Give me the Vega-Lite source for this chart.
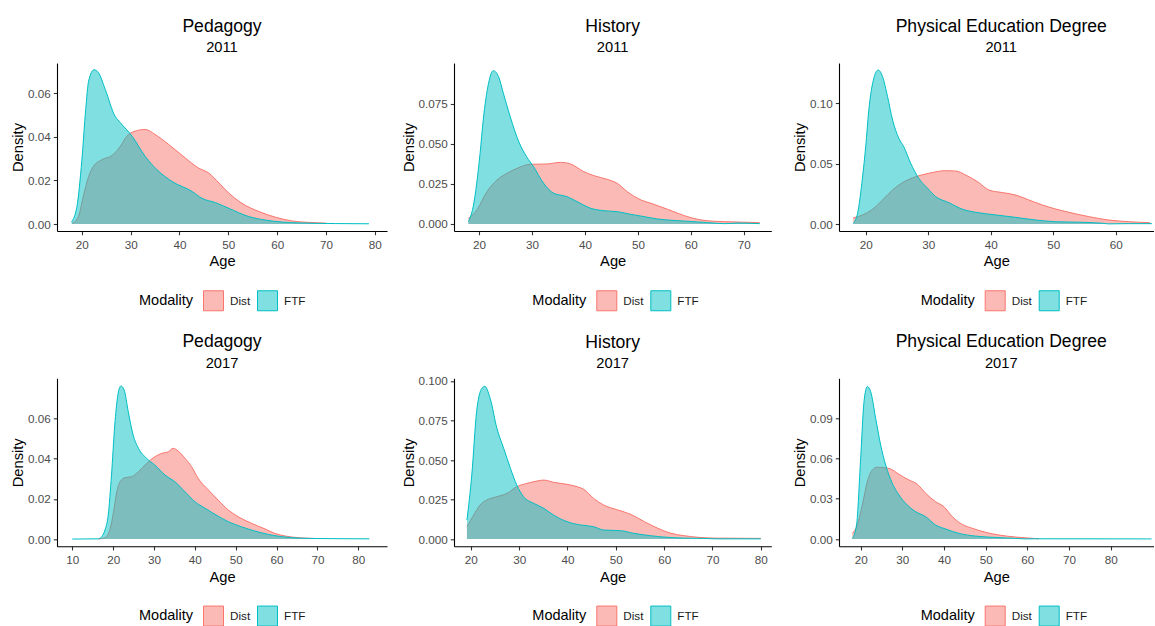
{
  "$schema": "https://vega.github.io/schema/vega-lite/v6.json",
  "padding": {"left": 10, "top": 17, "right": 0, "bottom": 0},
  "columns": 3,
  "bounds": "flush",
  "spacing": {"row": 147.3, "column": 67},
  "resolve": {
    "scale": {"x": "independent", "y": "independent", "fill": "independent", "stroke": "independent"},
    "legend": {"fill": "independent", "stroke": "independent"}
  },
  "config": {
    "font": "Liberation Sans",
    "view": {"stroke": null},
    "axis": {
      "grid": false,
      "domainColor": "#000000",
      "domainWidth": 1.1,
      "tickColor": "#333333",
      "tickWidth": 1.1,
      "tickSize": 3.7,
      "labelColor": "#4D4D4D",
      "labelFont": "Liberation Sans",
      "labelFontSize": 11.7,
      "labelFlush": false,
      "labelOverlap": false,
      "titleFont": "Liberation Sans",
      "titleFontSize": 14.7,
      "titleFontWeight": "normal",
      "titleColor": "#000000"
    },
    "axisX": {"labelPadding": 4.5, "titlePadding": 3},
    "axisY": {"labelPadding": 3, "titlePadding": 2},
    "title": {
      "font": "Liberation Sans",
      "fontSize": 17.6,
      "fontWeight": "normal",
      "color": "#000000",
      "subtitleFont": "Liberation Sans",
      "subtitleFontSize": 14.7,
      "subtitleColor": "#000000",
      "subtitlePadding": 5,
      "anchor": "middle",
      "frame": "group",
      "offset": 8
    },
    "legend": {
      "orient": "none",
      "direction": "horizontal",
      "padding": 0,
      "titleOrient": "left",
      "titleAnchor": "middle",
      "titleBaseline": "middle",
      "titleFont": "Liberation Sans",
      "titleFontSize": 14.5,
      "titleFontWeight": "normal",
      "titleColor": "#000000",
      "titlePadding": 10,
      "labelFont": "Liberation Sans",
      "labelFontSize": 11.7,
      "labelColor": "#1A1A1A",
      "labelOffset": 6,
      "columnPadding": 4,
      "symbolType": "square",
      "symbolSize": 400,
      "symbolStrokeWidth": 1
    }
  },
  "concat": [
    {
      "width": 330, "height": 168,
      "title": {"text": "Pedagogy", "subtitle": "2011"},
      "data": {"values": [
        {"Modality": "Dist", "Age": 18, "Density": 0.0003}, {"Modality": "Dist", "Age": 19.3, "Density": 0.0034}, {"Modality": "Dist", "Age": 20.3, "Density": 0.0126}, {"Modality": "Dist", "Age": 21.4, "Density": 0.0218}, {"Modality": "Dist", "Age": 22.4, "Density": 0.0265}, {"Modality": "Dist", "Age": 24.1, "Density": 0.0295}, {"Modality": "Dist", "Age": 26.2, "Density": 0.0315}, {"Modality": "Dist", "Age": 27.9, "Density": 0.0357}, {"Modality": "Dist", "Age": 29.2, "Density": 0.0403}, {"Modality": "Dist", "Age": 30.9, "Density": 0.0426}, {"Modality": "Dist", "Age": 33, "Density": 0.0434}, {"Modality": "Dist", "Age": 35, "Density": 0.0411}, {"Modality": "Dist", "Age": 37.8, "Density": 0.0365}, {"Modality": "Dist", "Age": 41.2, "Density": 0.0303}, {"Modality": "Dist", "Age": 43.9, "Density": 0.0257}, {"Modality": "Dist", "Age": 46, "Density": 0.0234}, {"Modality": "Dist", "Age": 48.1, "Density": 0.0188}, {"Modality": "Dist", "Age": 50.1, "Density": 0.0142}, {"Modality": "Dist", "Age": 52.8, "Density": 0.0095}, {"Modality": "Dist", "Age": 56.3, "Density": 0.0057}, {"Modality": "Dist", "Age": 59.7, "Density": 0.0031}, {"Modality": "Dist", "Age": 63.1, "Density": 0.0014}, {"Modality": "Dist", "Age": 65.2, "Density": 0.0009}, {"Modality": "Dist", "Age": 68, "Density": 0.0006}, {"Modality": "Dist", "Age": 70, "Density": 0.0004},
        {"Modality": "FTF", "Age": 17.9, "Density": 0.001}, {"Modality": "FTF", "Age": 19, "Density": 0.008}, {"Modality": "FTF", "Age": 20, "Density": 0.029}, {"Modality": "FTF", "Age": 20.8, "Density": 0.0526}, {"Modality": "FTF", "Age": 21.4, "Density": 0.0657}, {"Modality": "FTF", "Age": 22.5, "Density": 0.0708}, {"Modality": "FTF", "Age": 23.4, "Density": 0.0695}, {"Modality": "FTF", "Age": 24.8, "Density": 0.0618}, {"Modality": "FTF", "Age": 26.8, "Density": 0.0495}, {"Modality": "FTF", "Age": 27.9, "Density": 0.0465}, {"Modality": "FTF", "Age": 30.3, "Density": 0.0403}, {"Modality": "FTF", "Age": 33, "Density": 0.031}, {"Modality": "FTF", "Age": 35.4, "Density": 0.0249}, {"Modality": "FTF", "Age": 38.5, "Density": 0.0195}, {"Modality": "FTF", "Age": 42.6, "Density": 0.0149}, {"Modality": "FTF", "Age": 44.6, "Density": 0.0118}, {"Modality": "FTF", "Age": 47.4, "Density": 0.0098}, {"Modality": "FTF", "Age": 50.1, "Density": 0.0072}, {"Modality": "FTF", "Age": 54.2, "Density": 0.0034}, {"Modality": "FTF", "Age": 57.6, "Density": 0.0018}, {"Modality": "FTF", "Age": 61, "Density": 0.0009}, {"Modality": "FTF", "Age": 64.5, "Density": 0.0005}, {"Modality": "FTF", "Age": 68, "Density": 0.0003}, {"Modality": "FTF", "Age": 72, "Density": 0.0002}, {"Modality": "FTF", "Age": 78.8, "Density": 0.0001}
      ]},
      "encoding": {
        "x": {"field": "Age", "type": "quantitative", "scale": {"domain": [14.92, 82.5], "nice": false, "zero": false}, "axis": {"values": [20, 30, 40, 50, 60, 70, 80], "title": "Age"}},
        "y": {"field": "Density", "type": "quantitative", "stack": null, "scale": {"domain": [-0.00321, 0.0739], "nice": false, "zero": false}, "axis": {"values": [0, 0.02, 0.04, 0.06], "format": ".2f", "title": "Density"}}
      },
      "layer": [
        {"transform": [{"filter": "datum.Modality == 'Dist'"}], "mark": {"type": "area", "interpolate": "monotone", "fillOpacity": 0.5},
         "encoding": {"fill": {"field": "Modality", "type": "nominal", "scale": {"domain": ["Dist", "FTF"], "range": ["#F8766D", "#00BFC4"]}, "legend": {"title": "Modality", "legendX": 82, "legendY": 227, "encode": {"symbols": {"update": {"fillOpacity": {"value": 0.5}, "strokeOpacity": {"value": 1}}}}}}}},
        {"transform": [{"filter": "datum.Modality == 'Dist'"}], "mark": {"type": "line", "interpolate": "monotone", "strokeWidth": 1},
         "encoding": {"stroke": {"field": "Modality", "type": "nominal", "scale": {"domain": ["Dist", "FTF"], "range": ["#F8766D", "#00BFC4"]}, "legend": {"title": "Modality", "legendX": 82, "legendY": 227}}}},
        {"transform": [{"filter": "datum.Modality == 'FTF'"}], "mark": {"type": "area", "interpolate": "monotone", "fillOpacity": 0.5},
         "encoding": {"fill": {"field": "Modality", "type": "nominal"}}},
        {"transform": [{"filter": "datum.Modality == 'FTF'"}], "mark": {"type": "line", "interpolate": "monotone", "strokeWidth": 1},
         "encoding": {"stroke": {"field": "Modality", "type": "nominal"}}}
      ]
    },
    {
      "width": 317.3, "height": 168,
      "title": {"text": "History", "subtitle": "2011"},
      "data": {"values": [
        {"Modality": "Dist", "Age": 18, "Density": 0.0035}, {"Modality": "Dist", "Age": 19.6, "Density": 0.0088}, {"Modality": "Dist", "Age": 21.5, "Density": 0.0202}, {"Modality": "Dist", "Age": 23.4, "Density": 0.0275}, {"Modality": "Dist", "Age": 25.3, "Density": 0.0317}, {"Modality": "Dist", "Age": 27.2, "Density": 0.0348}, {"Modality": "Dist", "Age": 29.7, "Density": 0.0373}, {"Modality": "Dist", "Age": 32.8, "Density": 0.0375}, {"Modality": "Dist", "Age": 35.4, "Density": 0.0385}, {"Modality": "Dist", "Age": 37.3, "Density": 0.0375}, {"Modality": "Dist", "Age": 39.8, "Density": 0.0327}, {"Modality": "Dist", "Age": 41.7, "Density": 0.0302}, {"Modality": "Dist", "Age": 44.2, "Density": 0.0279}, {"Modality": "Dist", "Age": 46.1, "Density": 0.0254}, {"Modality": "Dist", "Age": 48, "Density": 0.0202}, {"Modality": "Dist", "Age": 50.6, "Density": 0.015}, {"Modality": "Dist", "Age": 52.5, "Density": 0.0129}, {"Modality": "Dist", "Age": 55.6, "Density": 0.0092}, {"Modality": "Dist", "Age": 58.8, "Density": 0.0052}, {"Modality": "Dist", "Age": 61.3, "Density": 0.0029}, {"Modality": "Dist", "Age": 64.5, "Density": 0.0017}, {"Modality": "Dist", "Age": 68.3, "Density": 0.0013}, {"Modality": "Dist", "Age": 73, "Density": 0.0008},
        {"Modality": "FTF", "Age": 18, "Density": 0.0015}, {"Modality": "FTF", "Age": 18.9, "Density": 0.0108}, {"Modality": "FTF", "Age": 20.2, "Density": 0.044}, {"Modality": "FTF", "Age": 20.8, "Density": 0.065}, {"Modality": "FTF", "Age": 21.8, "Density": 0.0879}, {"Modality": "FTF", "Age": 22.7, "Density": 0.0958}, {"Modality": "FTF", "Age": 23.7, "Density": 0.092}, {"Modality": "FTF", "Age": 24.6, "Density": 0.0817}, {"Modality": "FTF", "Age": 25.9, "Density": 0.067}, {"Modality": "FTF", "Age": 27.5, "Density": 0.0515}, {"Modality": "FTF", "Age": 29, "Density": 0.042}, {"Modality": "FTF", "Age": 30.3, "Density": 0.0358}, {"Modality": "FTF", "Age": 32.2, "Density": 0.0254}, {"Modality": "FTF", "Age": 34.1, "Density": 0.0192}, {"Modality": "FTF", "Age": 36.6, "Density": 0.0171}, {"Modality": "FTF", "Age": 38.5, "Density": 0.014}, {"Modality": "FTF", "Age": 41.1, "Density": 0.0098}, {"Modality": "FTF", "Age": 43.6, "Density": 0.0083}, {"Modality": "FTF", "Age": 46.1, "Density": 0.0077}, {"Modality": "FTF", "Age": 48.7, "Density": 0.006}, {"Modality": "FTF", "Age": 51.2, "Density": 0.0046}, {"Modality": "FTF", "Age": 53.7, "Density": 0.0031}, {"Modality": "FTF", "Age": 57.5, "Density": 0.0021}, {"Modality": "FTF", "Age": 61.3, "Density": 0.0013}, {"Modality": "FTF", "Age": 65.1, "Density": 0.0004}, {"Modality": "FTF", "Age": 66.4, "Density": 0.0002}, {"Modality": "FTF", "Age": 68.9, "Density": 0.0006}, {"Modality": "FTF", "Age": 73, "Density": 0.0002}
      ]},
      "encoding": {
        "x": {"field": "Age", "type": "quantitative", "scale": {"domain": [15.28, 75.19], "nice": false, "zero": false}, "axis": {"values": [20, 30, 40, 50, 60, 70], "title": "Age"}},
        "y": {"field": "Density", "type": "quantitative", "stack": null, "scale": {"domain": [-0.00438, 0.1006], "nice": false, "zero": false}, "axis": {"values": [0, 0.025, 0.05, 0.075], "format": ".3f", "title": "Density"}}
      },
      "layer": [
        {"transform": [{"filter": "datum.Modality == 'Dist'"}], "mark": {"type": "area", "interpolate": "monotone", "fillOpacity": 0.5},
         "encoding": {"fill": {"field": "Modality", "type": "nominal", "scale": {"domain": ["Dist", "FTF"], "range": ["#F8766D", "#00BFC4"]}, "legend": {"title": "Modality", "legendX": 78.3, "legendY": 227, "encode": {"symbols": {"update": {"fillOpacity": {"value": 0.5}, "strokeOpacity": {"value": 1}}}}}}}},
        {"transform": [{"filter": "datum.Modality == 'Dist'"}], "mark": {"type": "line", "interpolate": "monotone", "strokeWidth": 1},
         "encoding": {"stroke": {"field": "Modality", "type": "nominal", "scale": {"domain": ["Dist", "FTF"], "range": ["#F8766D", "#00BFC4"]}, "legend": {"title": "Modality", "legendX": 78.3, "legendY": 227}}}},
        {"transform": [{"filter": "datum.Modality == 'FTF'"}], "mark": {"type": "area", "interpolate": "monotone", "fillOpacity": 0.5},
         "encoding": {"fill": {"field": "Modality", "type": "nominal"}}},
        {"transform": [{"filter": "datum.Modality == 'FTF'"}], "mark": {"type": "line", "interpolate": "monotone", "strokeWidth": 1},
         "encoding": {"stroke": {"field": "Modality", "type": "nominal"}}}
      ]
    },
    {
      "width": 314.5, "height": 168,
      "title": {"text": "Physical Education Degree", "subtitle": "2011", "dx": 5},
      "data": {"values": [
        {"Modality": "Dist", "Age": 18, "Density": 0.005}, {"Modality": "Dist", "Age": 19.5, "Density": 0.0075}, {"Modality": "Dist", "Age": 21.1, "Density": 0.0122}, {"Modality": "Dist", "Age": 22.7, "Density": 0.0199}, {"Modality": "Dist", "Age": 24.3, "Density": 0.0282}, {"Modality": "Dist", "Age": 25.9, "Density": 0.0343}, {"Modality": "Dist", "Age": 28, "Density": 0.0392}, {"Modality": "Dist", "Age": 30.1, "Density": 0.042}, {"Modality": "Dist", "Age": 32.8, "Density": 0.0442}, {"Modality": "Dist", "Age": 34.4, "Density": 0.0439}, {"Modality": "Dist", "Age": 36, "Density": 0.0406}, {"Modality": "Dist", "Age": 38.1, "Density": 0.0343}, {"Modality": "Dist", "Age": 39.7, "Density": 0.0282}, {"Modality": "Dist", "Age": 41.9, "Density": 0.026}, {"Modality": "Dist", "Age": 44, "Density": 0.024}, {"Modality": "Dist", "Age": 46.1, "Density": 0.0199}, {"Modality": "Dist", "Age": 48.3, "Density": 0.0157}, {"Modality": "Dist", "Age": 50.4, "Density": 0.0124}, {"Modality": "Dist", "Age": 52.5, "Density": 0.0097}, {"Modality": "Dist", "Age": 55.7, "Density": 0.0061}, {"Modality": "Dist", "Age": 58.9, "Density": 0.0033}, {"Modality": "Dist", "Age": 62.1, "Density": 0.0019}, {"Modality": "Dist", "Age": 65.5, "Density": 0.0011},
        {"Modality": "FTF", "Age": 18, "Density": 0.0005}, {"Modality": "FTF", "Age": 18.7, "Density": 0.0088}, {"Modality": "FTF", "Age": 19.5, "Density": 0.039}, {"Modality": "FTF", "Age": 20, "Density": 0.064}, {"Modality": "FTF", "Age": 20.5, "Density": 0.0945}, {"Modality": "FTF", "Age": 21.3, "Density": 0.1207}, {"Modality": "FTF", "Age": 22, "Density": 0.1276}, {"Modality": "FTF", "Age": 22.7, "Density": 0.1221}, {"Modality": "FTF", "Age": 23.5, "Density": 0.1055}, {"Modality": "FTF", "Age": 24.3, "Density": 0.0862}, {"Modality": "FTF", "Age": 25.3, "Density": 0.071}, {"Modality": "FTF", "Age": 26.1, "Density": 0.064}, {"Modality": "FTF", "Age": 27.2, "Density": 0.0503}, {"Modality": "FTF", "Age": 28.5, "Density": 0.0378}, {"Modality": "FTF", "Age": 29.9, "Density": 0.0296}, {"Modality": "FTF", "Age": 31.2, "Density": 0.0227}, {"Modality": "FTF", "Age": 33.3, "Density": 0.0177}, {"Modality": "FTF", "Age": 35.5, "Density": 0.0122}, {"Modality": "FTF", "Age": 37.6, "Density": 0.0097}, {"Modality": "FTF", "Age": 40.8, "Density": 0.0075}, {"Modality": "FTF", "Age": 44, "Density": 0.0055}, {"Modality": "FTF", "Age": 47.2, "Density": 0.0033}, {"Modality": "FTF", "Age": 50.4, "Density": 0.0019}, {"Modality": "FTF", "Age": 54.7, "Density": 0.0014}, {"Modality": "FTF", "Age": 57.9, "Density": 0.0006}, {"Modality": "FTF", "Age": 58.9, "Density": 0.0001}, {"Modality": "FTF", "Age": 62, "Density": 0.0003}, {"Modality": "FTF", "Age": 65.8, "Density": 0.0003}
      ]},
      "encoding": {
        "x": {"field": "Age", "type": "quantitative", "scale": {"domain": [15.73, 66.05], "nice": false, "zero": false}, "axis": {"values": [20, 30, 40, 50, 60], "title": "Age"}},
        "y": {"field": "Density", "type": "quantitative", "stack": null, "scale": {"domain": [-0.0058, 0.1334], "nice": false, "zero": false}, "axis": {"values": [0, 0.05, 0.1], "format": ".2f", "title": "Density"}}
      },
      "layer": [
        {"transform": [{"filter": "datum.Modality == 'Dist'"}], "mark": {"type": "area", "interpolate": "monotone", "fillOpacity": 0.5},
         "encoding": {"fill": {"field": "Modality", "type": "nominal", "scale": {"domain": ["Dist", "FTF"], "range": ["#F8766D", "#00BFC4"]}, "legend": {"title": "Modality", "legendX": 81.7, "legendY": 227, "encode": {"symbols": {"update": {"fillOpacity": {"value": 0.5}, "strokeOpacity": {"value": 1}}}}}}}},
        {"transform": [{"filter": "datum.Modality == 'Dist'"}], "mark": {"type": "line", "interpolate": "monotone", "strokeWidth": 1},
         "encoding": {"stroke": {"field": "Modality", "type": "nominal", "scale": {"domain": ["Dist", "FTF"], "range": ["#F8766D", "#00BFC4"]}, "legend": {"title": "Modality", "legendX": 81.7, "legendY": 227}}}},
        {"transform": [{"filter": "datum.Modality == 'FTF'"}], "mark": {"type": "area", "interpolate": "monotone", "fillOpacity": 0.5},
         "encoding": {"fill": {"field": "Modality", "type": "nominal"}}},
        {"transform": [{"filter": "datum.Modality == 'FTF'"}], "mark": {"type": "line", "interpolate": "monotone", "strokeWidth": 1},
         "encoding": {"stroke": {"field": "Modality", "type": "nominal"}}}
      ]
    },
    {
      "width": 330, "height": 168,
      "title": {"text": "Pedagogy", "subtitle": "2017"},
      "data": {"values": [
        {"Modality": "Dist", "Age": 16.4, "Density": 0}, {"Modality": "Dist", "Age": 18, "Density": 0.0007}, {"Modality": "Dist", "Age": 19.3, "Density": 0.0053}, {"Modality": "Dist", "Age": 20.1, "Density": 0.0136}, {"Modality": "Dist", "Age": 20.9, "Density": 0.0235}, {"Modality": "Dist", "Age": 21.7, "Density": 0.0285}, {"Modality": "Dist", "Age": 22.9, "Density": 0.0305}, {"Modality": "Dist", "Age": 24.5, "Density": 0.031}, {"Modality": "Dist", "Age": 26.2, "Density": 0.0335}, {"Modality": "Dist", "Age": 28.2, "Density": 0.0376}, {"Modality": "Dist", "Age": 30.2, "Density": 0.0409}, {"Modality": "Dist", "Age": 31.9, "Density": 0.0426}, {"Modality": "Dist", "Age": 33.5, "Density": 0.0434}, {"Modality": "Dist", "Age": 34.7, "Density": 0.0451}, {"Modality": "Dist", "Age": 35.9, "Density": 0.0438}, {"Modality": "Dist", "Age": 37.6, "Density": 0.0401}, {"Modality": "Dist", "Age": 39.2, "Density": 0.036}, {"Modality": "Dist", "Age": 40.8, "Density": 0.0302}, {"Modality": "Dist", "Age": 43.3, "Density": 0.0244}, {"Modality": "Dist", "Age": 45.7, "Density": 0.0194}, {"Modality": "Dist", "Age": 48.2, "Density": 0.0144}, {"Modality": "Dist", "Age": 50.6, "Density": 0.0111}, {"Modality": "Dist", "Age": 53.9, "Density": 0.0078}, {"Modality": "Dist", "Age": 57.2, "Density": 0.005}, {"Modality": "Dist", "Age": 59.6, "Density": 0.0028}, {"Modality": "Dist", "Age": 62.1, "Density": 0.0015}, {"Modality": "Dist", "Age": 65.3, "Density": 0.0007}, {"Modality": "Dist", "Age": 69, "Density": 0.0003},
        {"Modality": "FTF", "Age": 10, "Density": 0}, {"Modality": "FTF", "Age": 16.4, "Density": 0.0001}, {"Modality": "FTF", "Age": 17.2, "Density": 0.0012}, {"Modality": "FTF", "Age": 18, "Density": 0.0045}, {"Modality": "FTF", "Age": 18.8, "Density": 0.0119}, {"Modality": "FTF", "Age": 19.6, "Density": 0.0318}, {"Modality": "FTF", "Age": 20.4, "Density": 0.0567}, {"Modality": "FTF", "Age": 21.1, "Density": 0.0708}, {"Modality": "FTF", "Age": 21.9, "Density": 0.0761}, {"Modality": "FTF", "Age": 22.7, "Density": 0.0741}, {"Modality": "FTF", "Age": 23.7, "Density": 0.0633}, {"Modality": "FTF", "Age": 24.9, "Density": 0.0517}, {"Modality": "FTF", "Age": 26.2, "Density": 0.0451}, {"Modality": "FTF", "Age": 28.2, "Density": 0.0401}, {"Modality": "FTF", "Age": 30.2, "Density": 0.0368}, {"Modality": "FTF", "Age": 32.7, "Density": 0.0318}, {"Modality": "FTF", "Age": 35.1, "Density": 0.0285}, {"Modality": "FTF", "Age": 37.6, "Density": 0.0235}, {"Modality": "FTF", "Age": 40, "Density": 0.0186}, {"Modality": "FTF", "Age": 42.5, "Density": 0.0153}, {"Modality": "FTF", "Age": 44.9, "Density": 0.0123}, {"Modality": "FTF", "Age": 48.2, "Density": 0.0086}, {"Modality": "FTF", "Age": 51.4, "Density": 0.0061}, {"Modality": "FTF", "Age": 54.7, "Density": 0.004}, {"Modality": "FTF", "Age": 58, "Density": 0.0023}, {"Modality": "FTF", "Age": 61.2, "Density": 0.0012}, {"Modality": "FTF", "Age": 63.7, "Density": 0.0007}, {"Modality": "FTF", "Age": 68.6, "Density": 0.0003}, {"Modality": "FTF", "Age": 73.5, "Density": 0.0002}, {"Modality": "FTF", "Age": 82.7, "Density": 0.0001}
      ]},
      "encoding": {
        "x": {"field": "Age", "type": "quantitative", "scale": {"domain": [6.26, 87.03], "nice": false, "zero": false}, "axis": {"values": [10, 20, 30, 40, 50, 60, 70, 80], "title": "Age"}},
        "y": {"field": "Density", "type": "quantitative", "stack": null, "scale": {"domain": [-0.0036, 0.0799], "nice": false, "zero": false}, "axis": {"values": [0, 0.02, 0.04, 0.06], "format": ".2f", "title": "Density"}}
      },
      "layer": [
        {"transform": [{"filter": "datum.Modality == 'Dist'"}], "mark": {"type": "area", "interpolate": "monotone", "fillOpacity": 0.5},
         "encoding": {"fill": {"field": "Modality", "type": "nominal", "scale": {"domain": ["Dist", "FTF"], "range": ["#F8766D", "#00BFC4"]}, "legend": {"title": "Modality", "legendX": 82, "legendY": 227, "encode": {"symbols": {"update": {"fillOpacity": {"value": 0.5}, "strokeOpacity": {"value": 1}}}}}}}},
        {"transform": [{"filter": "datum.Modality == 'Dist'"}], "mark": {"type": "line", "interpolate": "monotone", "strokeWidth": 1},
         "encoding": {"stroke": {"field": "Modality", "type": "nominal", "scale": {"domain": ["Dist", "FTF"], "range": ["#F8766D", "#00BFC4"]}, "legend": {"title": "Modality", "legendX": 82, "legendY": 227}}}},
        {"transform": [{"filter": "datum.Modality == 'FTF'"}], "mark": {"type": "area", "interpolate": "monotone", "fillOpacity": 0.5},
         "encoding": {"fill": {"field": "Modality", "type": "nominal"}}},
        {"transform": [{"filter": "datum.Modality == 'FTF'"}], "mark": {"type": "line", "interpolate": "monotone", "strokeWidth": 1},
         "encoding": {"stroke": {"field": "Modality", "type": "nominal"}}}
      ]
    },
    {
      "width": 317.3, "height": 168,
      "title": {"text": "History", "subtitle": "2017", "dy": 3},
      "data": {"values": [
        {"Modality": "Dist", "Age": 19.2, "Density": 0.0078}, {"Modality": "Dist", "Age": 20.6, "Density": 0.0152}, {"Modality": "Dist", "Age": 21.9, "Density": 0.0215}, {"Modality": "Dist", "Age": 23.3, "Density": 0.0247}, {"Modality": "Dist", "Age": 25.4, "Density": 0.0268}, {"Modality": "Dist", "Age": 27.5, "Density": 0.0289}, {"Modality": "Dist", "Age": 29.5, "Density": 0.0331}, {"Modality": "Dist", "Age": 31.6, "Density": 0.0352}, {"Modality": "Dist", "Age": 33.7, "Density": 0.0367}, {"Modality": "Dist", "Age": 35.1, "Density": 0.0373}, {"Modality": "Dist", "Age": 37.1, "Density": 0.0359}, {"Modality": "Dist", "Age": 39.9, "Density": 0.0346}, {"Modality": "Dist", "Age": 42, "Density": 0.0331}, {"Modality": "Dist", "Age": 43.4, "Density": 0.0314}, {"Modality": "Dist", "Age": 45.4, "Density": 0.0257}, {"Modality": "Dist", "Age": 47.5, "Density": 0.0215}, {"Modality": "Dist", "Age": 50.4, "Density": 0.0184}, {"Modality": "Dist", "Age": 53.1, "Density": 0.0156}, {"Modality": "Dist", "Age": 55.9, "Density": 0.011}, {"Modality": "Dist", "Age": 58.7, "Density": 0.0068}, {"Modality": "Dist", "Age": 61.4, "Density": 0.0036}, {"Modality": "Dist", "Age": 64.2, "Density": 0.0021}, {"Modality": "Dist", "Age": 67, "Density": 0.0011}, {"Modality": "Dist", "Age": 70.4, "Density": 0.0006}, {"Modality": "Dist", "Age": 80, "Density": 0.0004},
        {"Modality": "FTF", "Age": 19.2, "Density": 0.012}, {"Modality": "FTF", "Age": 20.2, "Density": 0.0405}, {"Modality": "FTF", "Age": 21.2, "Density": 0.0806}, {"Modality": "FTF", "Age": 22.3, "Density": 0.0954}, {"Modality": "FTF", "Age": 22.9, "Density": 0.0966}, {"Modality": "FTF", "Age": 24, "Density": 0.089}, {"Modality": "FTF", "Age": 25.4, "Density": 0.07}, {"Modality": "FTF", "Age": 26.8, "Density": 0.0574}, {"Modality": "FTF", "Age": 28.2, "Density": 0.0447}, {"Modality": "FTF", "Age": 29.5, "Density": 0.0342}, {"Modality": "FTF", "Age": 30.9, "Density": 0.0268}, {"Modality": "FTF", "Age": 33, "Density": 0.0226}, {"Modality": "FTF", "Age": 35.1, "Density": 0.0194}, {"Modality": "FTF", "Age": 37.1, "Density": 0.0152}, {"Modality": "FTF", "Age": 39.9, "Density": 0.011}, {"Modality": "FTF", "Age": 42.7, "Density": 0.0089}, {"Modality": "FTF", "Age": 45.4, "Density": 0.0078}, {"Modality": "FTF", "Age": 47.5, "Density": 0.0057}, {"Modality": "FTF", "Age": 51, "Density": 0.0053}, {"Modality": "FTF", "Age": 53.7, "Density": 0.0036}, {"Modality": "FTF", "Age": 57.2, "Density": 0.0021}, {"Modality": "FTF", "Age": 60.6, "Density": 0.0011}, {"Modality": "FTF", "Age": 64.1, "Density": 0.0006}, {"Modality": "FTF", "Age": 68.2, "Density": 0.0004}, {"Modality": "FTF", "Age": 71, "Density": 0.0001}, {"Modality": "FTF", "Age": 80, "Density": 0.0001}
      ]},
      "encoding": {
        "x": {"field": "Age", "type": "quantitative", "scale": {"domain": [16.52, 82.17], "nice": false, "zero": false}, "axis": {"values": [20, 30, 40, 50, 60, 70, 80], "title": "Age"}},
        "y": {"field": "Density", "type": "quantitative", "stack": null, "scale": {"domain": [-0.0046, 0.1017], "nice": false, "zero": false}, "axis": {"values": [0, 0.025, 0.05, 0.075, 0.1], "format": ".3f", "title": "Density"}}
      },
      "layer": [
        {"transform": [{"filter": "datum.Modality == 'Dist'"}], "mark": {"type": "area", "interpolate": "monotone", "fillOpacity": 0.5},
         "encoding": {"fill": {"field": "Modality", "type": "nominal", "scale": {"domain": ["Dist", "FTF"], "range": ["#F8766D", "#00BFC4"]}, "legend": {"title": "Modality", "legendX": 78.3, "legendY": 227, "encode": {"symbols": {"update": {"fillOpacity": {"value": 0.5}, "strokeOpacity": {"value": 1}}}}}}}},
        {"transform": [{"filter": "datum.Modality == 'Dist'"}], "mark": {"type": "line", "interpolate": "monotone", "strokeWidth": 1},
         "encoding": {"stroke": {"field": "Modality", "type": "nominal", "scale": {"domain": ["Dist", "FTF"], "range": ["#F8766D", "#00BFC4"]}, "legend": {"title": "Modality", "legendX": 78.3, "legendY": 227}}}},
        {"transform": [{"filter": "datum.Modality == 'FTF'"}], "mark": {"type": "area", "interpolate": "monotone", "fillOpacity": 0.5},
         "encoding": {"fill": {"field": "Modality", "type": "nominal"}}},
        {"transform": [{"filter": "datum.Modality == 'FTF'"}], "mark": {"type": "line", "interpolate": "monotone", "strokeWidth": 1},
         "encoding": {"stroke": {"field": "Modality", "type": "nominal"}}}
      ]
    },
    {
      "width": 314.5, "height": 168,
      "title": {"text": "Physical Education Degree", "subtitle": "2017", "dx": 5},
      "data": {"values": [
        {"Modality": "Dist", "Age": 18, "Density": 0.0042}, {"Modality": "Dist", "Age": 19.2, "Density": 0.0104}, {"Modality": "Dist", "Age": 20.4, "Density": 0.0254}, {"Modality": "Dist", "Age": 21.6, "Density": 0.0428}, {"Modality": "Dist", "Age": 22.8, "Density": 0.0515}, {"Modality": "Dist", "Age": 24, "Density": 0.0535}, {"Modality": "Dist", "Age": 25.6, "Density": 0.0532}, {"Modality": "Dist", "Age": 27.2, "Density": 0.0522}, {"Modality": "Dist", "Age": 29.2, "Density": 0.0482}, {"Modality": "Dist", "Age": 31.6, "Density": 0.044}, {"Modality": "Dist", "Age": 33.6, "Density": 0.0408}, {"Modality": "Dist", "Age": 35.6, "Density": 0.0341}, {"Modality": "Dist", "Age": 38, "Density": 0.0278}, {"Modality": "Dist", "Age": 40, "Density": 0.0241}, {"Modality": "Dist", "Age": 42, "Density": 0.0167}, {"Modality": "Dist", "Age": 44.4, "Density": 0.0109}, {"Modality": "Dist", "Age": 46.8, "Density": 0.008}, {"Modality": "Dist", "Age": 50, "Density": 0.005}, {"Modality": "Dist", "Age": 53.2, "Density": 0.003}, {"Modality": "Dist", "Age": 57.2, "Density": 0.0015}, {"Modality": "Dist", "Age": 60.4, "Density": 0.0007}, {"Modality": "Dist", "Age": 62.8, "Density": 0.0002},
        {"Modality": "FTF", "Age": 18, "Density": 0.0005}, {"Modality": "FTF", "Age": 19, "Density": 0.0104}, {"Modality": "FTF", "Age": 20, "Density": 0.0602}, {"Modality": "FTF", "Age": 20.8, "Density": 0.1024}, {"Modality": "FTF", "Age": 21.6, "Density": 0.1136}, {"Modality": "FTF", "Age": 22.4, "Density": 0.1099}, {"Modality": "FTF", "Age": 23.6, "Density": 0.09}, {"Modality": "FTF", "Age": 24.8, "Density": 0.0701}, {"Modality": "FTF", "Age": 26, "Density": 0.0552}, {"Modality": "FTF", "Age": 27.6, "Density": 0.0415}, {"Modality": "FTF", "Age": 29.2, "Density": 0.0328}, {"Modality": "FTF", "Age": 30.8, "Density": 0.0266}, {"Modality": "FTF", "Age": 33.2, "Density": 0.0204}, {"Modality": "FTF", "Age": 35.6, "Density": 0.0167}, {"Modality": "FTF", "Age": 38, "Density": 0.0104}, {"Modality": "FTF", "Age": 40.4, "Density": 0.0075}, {"Modality": "FTF", "Age": 43.6, "Density": 0.0042}, {"Modality": "FTF", "Age": 47.6, "Density": 0.0022}, {"Modality": "FTF", "Age": 52.4, "Density": 0.0012}, {"Modality": "FTF", "Age": 57.2, "Density": 0.0005}, {"Modality": "FTF", "Age": 60, "Density": 0.0001}, {"Modality": "FTF", "Age": 62, "Density": 0.0002}, {"Modality": "FTF", "Age": 89.8, "Density": 0.0001}
      ]},
      "encoding": {
        "x": {"field": "Age", "type": "quantitative", "scale": {"domain": [14.8, 90.28], "nice": false, "zero": false}, "axis": {"values": [20, 30, 40, 50, 60, 70, 80], "title": "Age"}},
        "y": {"field": "Density", "type": "quantitative", "stack": null, "scale": {"domain": [-0.0054, 0.1198], "nice": false, "zero": false}, "axis": {"values": [0, 0.03, 0.06, 0.09], "format": ".2f", "title": "Density"}}
      },
      "layer": [
        {"transform": [{"filter": "datum.Modality == 'Dist'"}], "mark": {"type": "area", "interpolate": "monotone", "fillOpacity": 0.5},
         "encoding": {"fill": {"field": "Modality", "type": "nominal", "scale": {"domain": ["Dist", "FTF"], "range": ["#F8766D", "#00BFC4"]}, "legend": {"title": "Modality", "legendX": 81.7, "legendY": 227, "encode": {"symbols": {"update": {"fillOpacity": {"value": 0.5}, "strokeOpacity": {"value": 1}}}}}}}},
        {"transform": [{"filter": "datum.Modality == 'Dist'"}], "mark": {"type": "line", "interpolate": "monotone", "strokeWidth": 1},
         "encoding": {"stroke": {"field": "Modality", "type": "nominal", "scale": {"domain": ["Dist", "FTF"], "range": ["#F8766D", "#00BFC4"]}, "legend": {"title": "Modality", "legendX": 81.7, "legendY": 227}}}},
        {"transform": [{"filter": "datum.Modality == 'FTF'"}], "mark": {"type": "area", "interpolate": "monotone", "fillOpacity": 0.5},
         "encoding": {"fill": {"field": "Modality", "type": "nominal"}}},
        {"transform": [{"filter": "datum.Modality == 'FTF'"}], "mark": {"type": "line", "interpolate": "monotone", "strokeWidth": 1},
         "encoding": {"stroke": {"field": "Modality", "type": "nominal"}}}
      ]
    }
  ]
}
